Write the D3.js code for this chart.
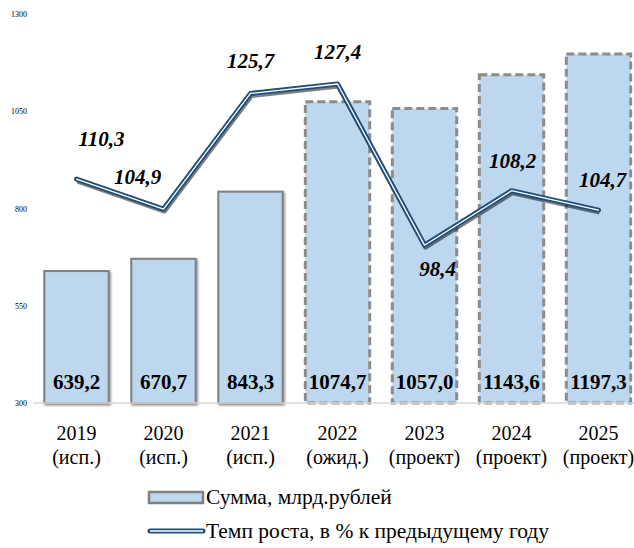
<!DOCTYPE html>
<html>
<head>
<meta charset="utf-8">
<script src="https://cdn.jsdelivr.net/npm/d3@7"></script>
</head>
<body style="margin:0">
<script>
const years = ["2019", "2020", "2021", "2022", "2023", "2024", "2025"];
const status = ["(исп.)", "(исп.)", "(исп.)", "(ожид.)", "(проект)", "(проект)", "(проект)"];
const sums = [639.2, 670.7, 843.3, 1074.7, 1057.0, 1143.6, 1197.3];
const growth = [110.3, 104.9, 125.7, 127.4, 98.4, 108.2, 104.7];
const yTicks = [300, 550, 800, 1050, 1300];

// bars from 2022 on are forecasts (dashed border)
const dashedFrom = 3;
// label shifts for the growth labels [dx, dy]
const labelShift = [[25, -33], [-26, -25], [0, -25], [0, -25], [13, 31], [1, -23], [4, -23]];

const width = 634, height = 548;
const margin = { top: 14, left: 33, bottom: 145 };
const plotW = 609;
const serif = "'Times New Roman'";

const svg = d3.select("body").append("svg")
  .attr("width", width)
  .attr("height", height);

const x = d3.scaleBand()
  .domain(years)
  .range([margin.left, margin.left + plotW])
  .paddingInner(0.26)
  .paddingOuter(0.13);

const y = d3.scaleLinear()
  .domain([300, 1300])
  .range([height - margin.bottom, margin.top]);

const y2 = d3.scaleLinear()
  .domain([70, 140])
  .range([height - margin.bottom, margin.top]);

const fmt = v => v.toFixed(1).replace(".", ",");

// left axis labels
svg.append("g").selectAll("text")
  .data(yTicks)
  .join("text")
  .attr("x", 27)
  .attr("y", d => y(d) + 3)
  .attr("text-anchor", "end")
  .attr("font-family", serif)
  .attr("font-size", 8)
  .text(d => d);

// bars
const defs = svg.append("defs");
const f = defs.append("filter").attr("id", "shadow")
  .attr("x", "-20%").attr("y", "-20%").attr("width", "140%").attr("height", "140%");
f.append("feDropShadow").attr("dx", 1.2).attr("dy", 1.5)
  .attr("stdDeviation", 0.8).attr("flood-color", "#000").attr("flood-opacity", 0.45);

svg.append("g").selectAll("rect")
  .data(sums)
  .join("rect")
  .attr("x", (d, i) => x(years[i]))
  .attr("y", d => y(d))
  .attr("width", x.bandwidth())
  .attr("height", d => y(300) - y(d))
  .attr("fill", "#BDD7EE")
  .attr("stroke", (d, i) => i >= dashedFrom ? "#8c8c8c" : "#7f7f7f")
  .attr("stroke-width", (d, i) => i >= dashedFrom ? 3 : 2)
  .attr("stroke-dasharray", (d, i) => i >= dashedFrom ? "8,4" : null)
  .attr("filter", (d, i) => i >= dashedFrom ? null : "url(#shadow)");

// baseline
svg.append("line")
  .attr("x1", margin.left).attr("x2", width)
  .attr("y1", y(300)).attr("y2", y(300))
  .attr("stroke", "#d9d9d9").attr("stroke-width", 1.5);

// bar values
svg.append("g").selectAll("text")
  .data(sums)
  .join("text")
  .attr("x", (d, i) => x(years[i]) + x.bandwidth() / 2)
  .attr("y", y(300) - 14)
  .attr("text-anchor", "middle")
  .attr("font-family", serif)
  .attr("font-size", 21)
  .attr("font-weight", "bold")
  .text(d => fmt(d));

// growth line
const line = d3.line()
  .x((d, i) => x(years[i]) + x.bandwidth() / 2)
  .y(d => y2(d));

svg.append("path").datum(growth)
  .attr("d", line)
  .attr("transform", "translate(1,2)")
  .attr("fill", "none")
  .attr("stroke", "#000").attr("stroke-opacity", 0.5)
  .attr("stroke-width", 5).attr("stroke-linejoin", "round");
svg.append("path").datum(growth)
  .attr("d", line)
  .attr("fill", "none")
  .attr("stroke", "#1f4e79")
  .attr("stroke-width", 5).attr("stroke-linejoin", "round").attr("stroke-linecap", "round");
svg.append("path").datum(growth)
  .attr("d", line)
  .attr("fill", "none")
  .attr("stroke", "#fff")
  .attr("stroke-width", 1.3).attr("stroke-linejoin", "round").attr("stroke-linecap", "round");

// growth labels
svg.append("g").selectAll("text")
  .data(growth)
  .join("text")
  .attr("x", (d, i) => x(years[i]) + x.bandwidth() / 2 + labelShift[i][0])
  .attr("y", (d, i) => y2(d) + labelShift[i][1])
  .attr("text-anchor", "middle")
  .attr("font-family", serif)
  .attr("font-size", 21)
  .attr("font-weight", "bold")
  .attr("font-style", "italic")
  .text(d => fmt(d));

// category labels
const cat = svg.append("g").selectAll("text")
  .data(years)
  .join("text")
  .attr("x", d => x(d) + x.bandwidth() / 2)
  .attr("y", 440)
  .attr("text-anchor", "middle")
  .attr("font-family", serif)
  .attr("font-size", 20);
cat.append("tspan").text(d => d);
cat.append("tspan")
  .attr("x", d => x(d) + x.bandwidth() / 2)
  .attr("dy", 24)
  .text((d, i) => status[i]);

// legend
const lg = svg.append("g");
lg.append("rect")
  .attr("x", 149).attr("y", 492).attr("width", 54).attr("height", 11)
  .attr("fill", "#BDD7EE").attr("stroke", "#7f7f7f").attr("stroke-width", 2.5);
lg.append("text").attr("x", 206).attr("y", 504)
  .attr("font-family", serif).attr("font-size", 21.5)
  .text("Сумма, млрд.рублей");
lg.append("line")
  .attr("x1", 150).attr("x2", 203).attr("y1", 531).attr("y2", 531)
  .attr("stroke", "#1f4e79").attr("stroke-width", 5).attr("stroke-linecap", "round");
lg.append("line")
  .attr("x1", 150).attr("x2", 203).attr("y1", 531).attr("y2", 531)
  .attr("stroke", "#fff").attr("stroke-width", 1.3);
lg.append("text").attr("x", 206).attr("y", 538)
  .attr("font-family", serif).attr("font-size", 21.5)
  .text("Темп роста, в % к предыдущему году");
</script>
</body>
</html>
